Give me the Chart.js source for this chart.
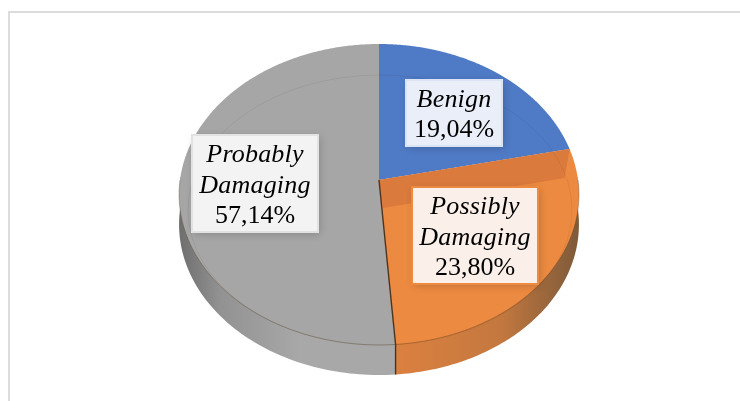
<!DOCTYPE html>
<html>
<head>
<meta charset="utf-8">
<style>
  html, body { margin: 0; padding: 0; background: #fff; overflow: hidden; }
  #frame { position: absolute; left: 8px; top: 11px; width: 732px; height: 390px; border-left: 2px solid #dcdcdc; border-top: 2px solid #dcdcdc; box-sizing: border-box; }
  #wrap { position: absolute; left: 0; top: 0; width: 740px; height: 401px; }
</style>
<script src="https://cdn.jsdelivr.net/npm/chart.js@4/dist/chart.umd.min.js"></script>
</head>
<body>
<div id="frame"></div>
<div id="wrap"><canvas id="pasta"></canvas></div>
<script>
const categories = ["Benign", "Possibly Damaging", "Probably Damaging"];
const printedLabels = ["19,04%", "23,80%", "57,14%"];
// slice sizes as drawn in the picture, they do not follow the printed percentages
const sliceValues = [21.6, 27.2, 51.2];
const sliceColors = ["#4f7ac5", "#ed8a41", "#a6a6a6"];
const wallStops = [
  [[0, "#3a5a94"], [1, "#3a5a94"]],
  [[0.5, "#df8240"], [0.8, "#c4783f"], [1, "#7c5a3a"]],
  [[0, "#6f6f6f"], [0.1, "#929292"], [0.3, "#a8a8a8"]]
];
const labelLines = [["Benign"], ["Possibly", "Damaging"], ["Probably", "Damaging"]];
const labelBoxes = [
  { x: 406, y: 80, w: 96, h: 66, fill: "#e9eef8", edge: "#dbe4f4" },
  { x: 412, y: 187, w: 126, h: 97, fill: "#fbf0e9", edge: "#ed8a41" },
  { x: 192, y: 135, w: 126, h: 97, fill: "#f3f3f3", edge: "#e2e2e2" }
];

// where the pie sits on the page, seen in perspective
const apexX = 379, apexY = 180;
const spreadX = 199, spreadY = 149.1, tilt = 0.0963, depth = 30;

function project(u, v) {
  const d = 1 + tilt * v;
  return [apexX + spreadX * u / d, apexY - spreadY * v / d];
}

function rimPoint(angle) {
  return project(Math.cos(angle), -Math.sin(angle));
}

// Chart.js draws the arcs, we only bend its path calls through project()
const perspective = {
  id: "perspective",
  beforeDatasetsDraw(chart) {
    const ctx = chart.ctx;
    const meta = chart.getDatasetMeta(0);
    const first = meta.data[0];
    const cx = first.x, cy = first.y, r = first.outerRadius;
    const toPage = (x, y) => project((x - cx) / r, (cy - y) / r);

    // side wall below the front of the rim
    meta.data.forEach((arc, i) => {
      const from = Math.max(arc.startAngle, -0.02);
      const to = Math.min(arc.endAngle, Math.PI + 0.02);
      if (to <= from) return;
      const a = rimPoint(from), b = rimPoint(to);
      const grad = ctx.createLinearGradient(180, 0, 580, 0);
      wallStops[i].forEach(stop => grad.addColorStop(stop[0], stop[1]));
      ctx.save();
      ctx.fillStyle = grad;
      ctx.beginPath();
      ctx.moveTo(a[0], a[1]);
      for (let s = 0; s <= 80; s++) {
        const p = rimPoint(from + (to - from) * s / 80);
        ctx.lineTo(p[0], p[1] + depth);
      }
      ctx.lineTo(b[0], b[1]);
      ctx.closePath();
      ctx.fill();
      ctx.restore();
    });

    const realLine = ctx.lineTo, realMove = ctx.moveTo;
    ctx.arc = function (x, y, rad, a0, a1, ccw) {
      const steps = 160;
      for (let s = 0; s <= steps; s++) {
        const a = a0 + (a1 - a0) * s / steps;
        const p = toPage(x + rad * Math.cos(a), y + rad * Math.sin(a));
        realLine.call(ctx, p[0], p[1]);
      }
    };
    ctx.lineTo = function (x, y) { const p = toPage(x, y); realLine.call(ctx, p[0], p[1]); };
    ctx.moveTo = function (x, y) { const p = toPage(x, y); realMove.call(ctx, p[0], p[1]); };
  },
  afterDatasetsDraw(chart) {
    const ctx = chart.ctx;
    delete ctx.arc;
    delete ctx.lineTo;
    delete ctx.moveTo;
    const meta = chart.getDatasetMeta(0);

    // darker band on the orange slice under the blue one
    const edge = rimPoint(meta.data[1].startAngle);
    ctx.save();
    ctx.fillStyle = "#da7a3c";
    ctx.beginPath();
    ctx.moveTo(apexX, apexY);
    ctx.lineTo(edge[0], edge[1]);
    ctx.lineTo(edge[0] - 5, edge[1] + 29);
    ctx.lineTo(apexX + 4, apexY + 28);
    ctx.closePath();
    ctx.fill();

    // faint ring of the bevel
    ctx.strokeStyle = "rgba(0,0,0,0.06)";
    ctx.lineWidth = 1;
    ctx.beginPath();
    ctx.ellipse(380, 210, 192, 135, 0, 0, Math.PI * 2);
    ctx.stroke();

    // dark seam between orange and grey
    const seam = rimPoint(meta.data[1].endAngle);
    ctx.strokeStyle = "#4a3420";
    ctx.lineWidth = 1.4;
    ctx.beginPath();
    ctx.moveTo(apexX, apexY);
    ctx.lineTo(seam[0], seam[1]);
    ctx.lineTo(seam[0], seam[1] + depth);
    ctx.stroke();

    // rim line where top face meets the wall
    ctx.strokeStyle = "rgba(90,60,30,0.35)";
    ctx.lineWidth = 1;
    ctx.beginPath();
    for (let s = 0; s <= 120; s++) {
      const p = rimPoint(Math.PI * s / 120);
      if (s === 0) ctx.moveTo(p[0], p[1]); else ctx.lineTo(p[0], p[1]);
    }
    ctx.stroke();

    // label boxes
    ctx.textAlign = "center";
    ctx.textBaseline = "alphabetic";
    labelBoxes.forEach((box, i) => {
      ctx.save();
      ctx.shadowColor = "rgba(0,0,0,0.18)";
      ctx.shadowBlur = 8;
      ctx.shadowOffsetX = 2;
      ctx.shadowOffsetY = 2;
      ctx.fillStyle = box.fill;
      ctx.fillRect(box.x, box.y, box.w, box.h);
      ctx.restore();
      ctx.strokeStyle = box.edge;
      ctx.lineWidth = 2;
      ctx.strokeRect(box.x, box.y, box.w, box.h);

      const mid = box.x + box.w / 2;
      let base = box.y + 27;
      ctx.fillStyle = "#000";
      ctx.font = "italic 26px 'Liberation Serif'";
      ctx.letterSpacing = "0.2px";
      labelLines[i].forEach(line => {
        ctx.fillText(line, mid, base);
        base += 31;
      });
      ctx.font = "26px 'Liberation Serif'";
      ctx.letterSpacing = "0px";
      ctx.fillText(printedLabels[i], mid, base - 1);
    });
    ctx.restore();
  }
};

new Chart(document.getElementById("pasta"), {
  type: "pie",
  data: {
    labels: categories,
    datasets: [{
      data: sliceValues,
      backgroundColor: sliceColors,
      borderWidth: 0
    }]
  },
  options: {
    responsive: true,
    maintainAspectRatio: false,
    animation: false,
    events: [],
    plugins: {
      legend: { display: false },
      tooltip: { enabled: false }
    }
  },
  plugins: [perspective]
});
</script>
</body>
</html>
